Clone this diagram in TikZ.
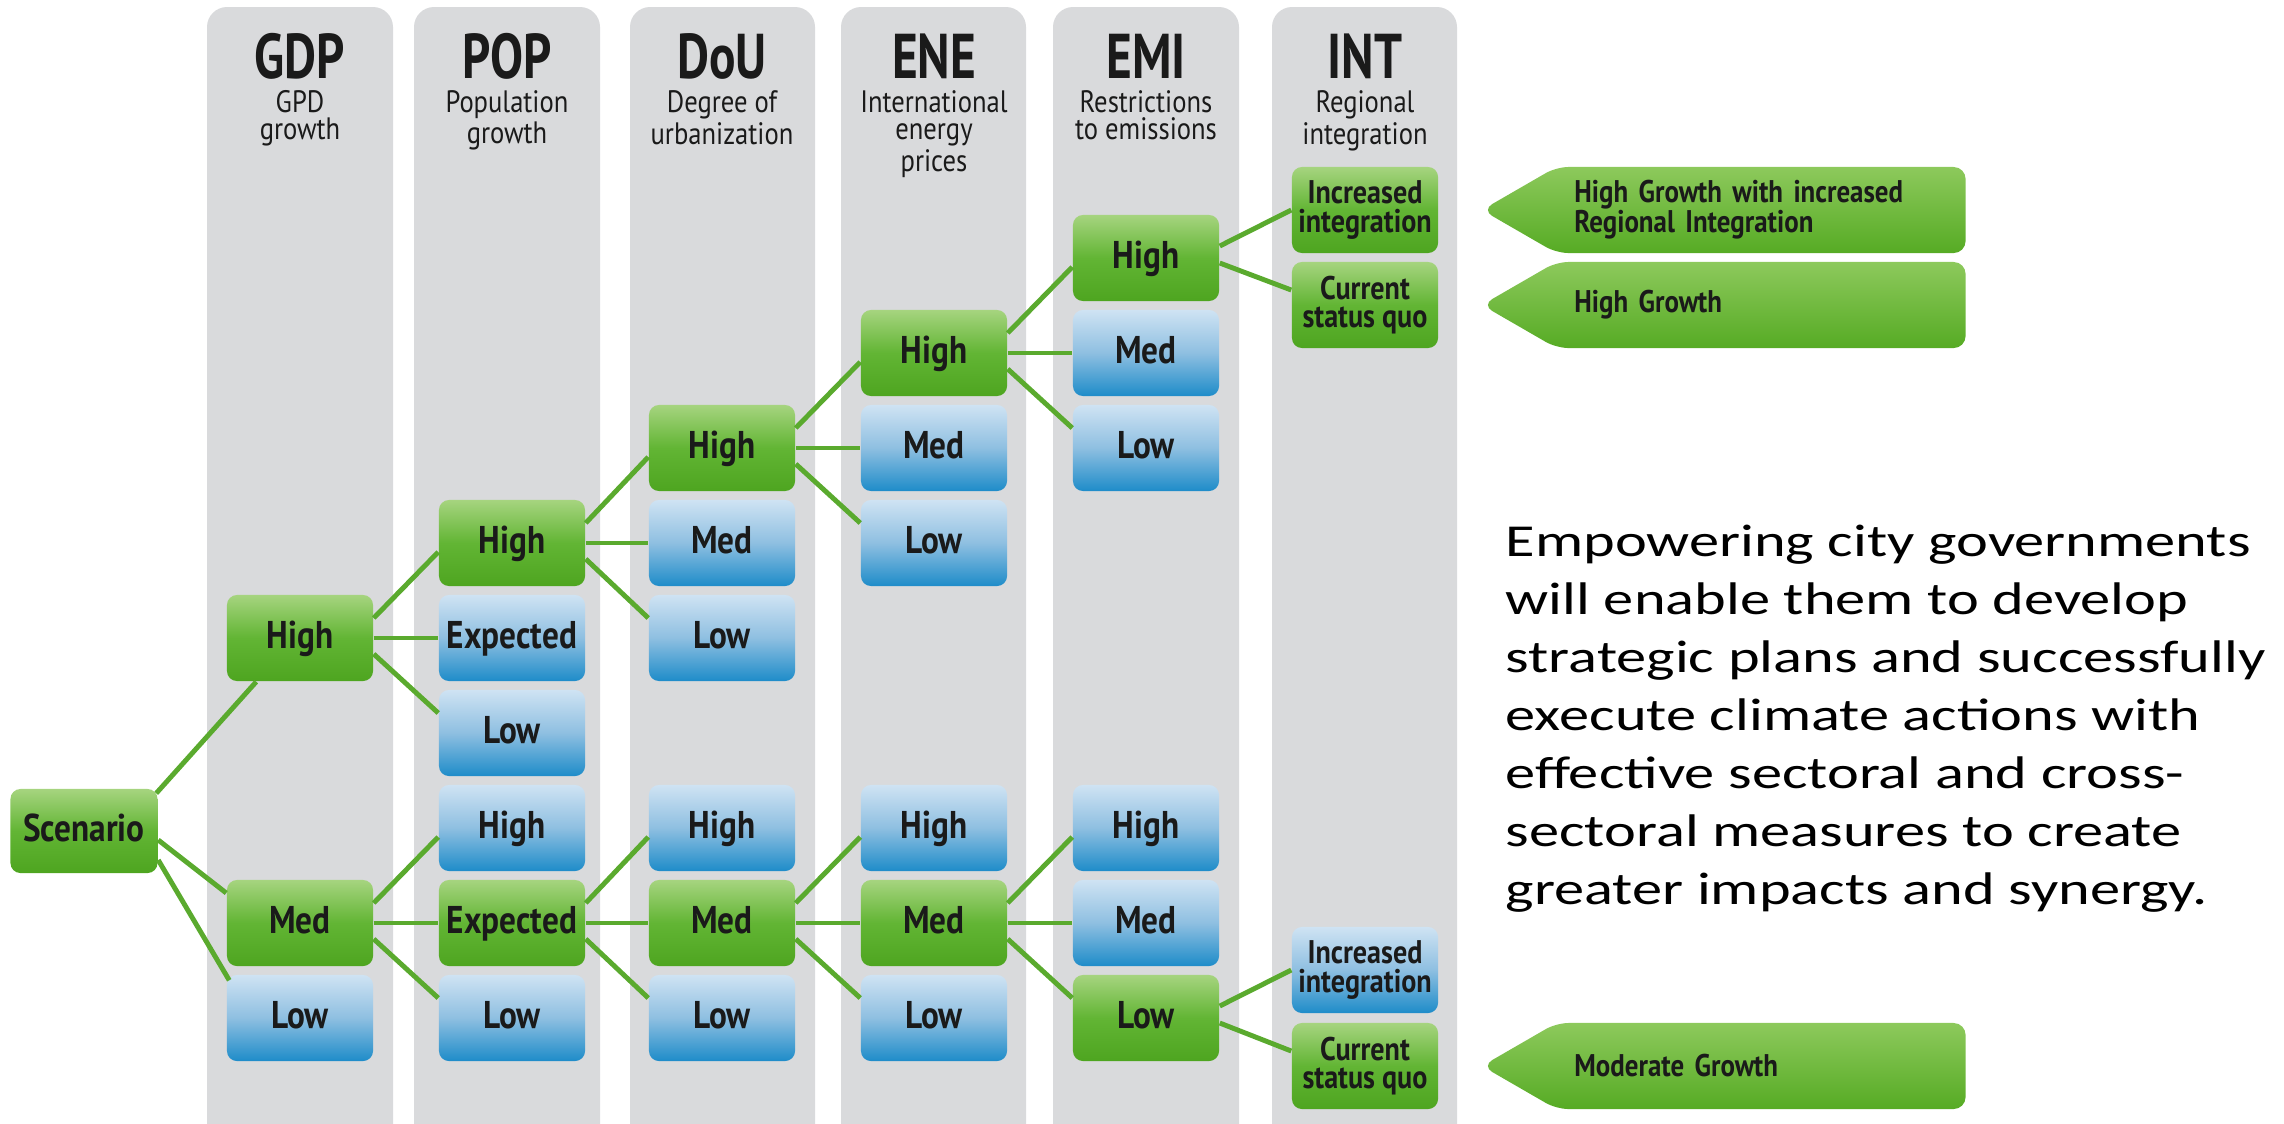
\documentclass[tikz,border=0pt]{standalone}
\usepackage{fontspec}
\setmainfont{Carlito}
\newfontfamily\notefont[FakeStretch=1.32]{Carlito}
\newfontfamily\condfont[FakeStretch=0.86]{PT Sans}
\newfontfamily\headfont[FakeStretch=0.78]{PT Sans}
\usetikzlibrary{positioning,calc,shapes.symbols}

\definecolor{panelgray}{HTML}{D9DADC}
\definecolor{linkgreen}{HTML}{5AAA2E}
\definecolor{greenTop}{HTML}{A6D47F}
\definecolor{greenMid}{HTML}{62B534}
\definecolor{greenBot}{HTML}{4EA520}
\definecolor{blueTop}{HTML}{CFE3F3}
\definecolor{blueMid}{HTML}{8EBFE1}
\definecolor{blueBot}{HTML}{1E8CC9}
\definecolor{labTop}{HTML}{8DC95C}
\definecolor{labBot}{HTML}{56AB24}
\definecolor{ink}{HTML}{1A1A1A}

\begin{document}
\begin{tikzpicture}[
  % one unit = one pixel of the original, y grows downwards
  x=0.01cm, y=-0.01cm,
  column/.style={fill=panelgray, rounded corners=0.2cm},
  colhead/.style={font=\headfont\bfseries\fontsize{18}{18}\selectfont,
    text=ink, anchor=base, inner sep=0pt, text depth=0pt},
  colsub/.style={font=\condfont\fontsize{8.8}{7.7}\selectfont,
    text=ink, align=center, anchor=north, inner sep=0pt},
  % shared box; colour set per node
  choice/.style={rectangle, rounded corners=0.1cm, minimum width=1.46cm,
    minimum height=0.86cm, inner sep=0pt, text=ink,
    font=\condfont\bfseries\fontsize{11}{11}\selectfont},
  word/.style={text height=0.27cm, text depth=0.07cm},
  twoline/.style={align=center,
    font=\condfont\bfseries\fontsize{9.3}{8}\selectfont},
  picked/.style={choice, top color=greenTop, bottom color=greenBot,
    middle color=greenMid},
  other/.style={choice, top color=blueTop, bottom color=blueBot,
    middle color=blueMid},
  outcome/.style={shape=signal, signal to=west, signal pointer angle=60,
    rounded corners=0.12cm, top color=labTop, bottom color=labBot,
    minimum height=0.86cm, inner ysep=0pt, inner xsep=0.18cm,
    text width=3.73cm, align=left, text=ink,
    font=\condfont\bfseries\fontsize{8.9}{8.5}\selectfont},
  link/.style={draw=linkgreen, line width=1.4pt},
]

\useasboundingbox (0,0) rectangle (2284,1123);

% ---------------------------------------------------------------
% Column panels and headings
% ---------------------------------------------------------------
\fill[column] (207,7) rectangle (393,1150);
\fill[column] (414,7) rectangle (600,1150);
\fill[column] (630,7) rectangle (815,1150);
\fill[column] (841,7) rectangle (1026,1150);
\fill[column] (1053,7) rectangle (1239,1150);
\fill[column] (1272,7) rectangle (1457,1150);

\node[colhead] (hGDP) at (300,78)  {GDP};
\node[colhead] (hPOP) at (507,78)  {POP};
\node[colhead] (hDOU) at (722,78)  {DoU};
\node[colhead] (hENE) at (934,78)  {ENE};
\node[colhead] (hEMI) at (1146,78) {EMI};
\node[colhead] (hINT) at (1365,78) {INT};

\node[colsub] (sGDP) at (300,90)  {GPD\\growth};
\node[colsub] (sPOP) at (507,90)  {Population\\growth};
\node[colsub] (sDOU) at (722,90)  {Degree of\\urbanization};
\node[colsub] (sENE) at (934,90)  {International\\energy\\prices};
\node[colsub] (sEMI) at (1146,90) {Restrictions\\to emissions};
\node[colsub] (sINT) at (1365,90) {Regional\\integration};

% ---------------------------------------------------------------
% Tree nodes: rows every 95 px, first row at 258
% ---------------------------------------------------------------
\node[picked, word, minimum width=1.47cm, minimum height=0.84cm]
  (scen) at (84,831) {Scenario};

% GDP
\node[picked, word] (gdpH) at (300,638)  {High};
\node[picked, word] (gdpM) at (300,923)  {Med};
\node[other, word]  (gdpL) at (300,1018) {Low};

% POP
\node[picked, word] (popH)  at (512,543)  {High};
\node[other, word]  (popE)  at (512,638)  {Expected};
\node[other, word]  (popL)  at (512,733)  {Low};
\node[other, word]  (popH2) at (512,828)  {High};
\node[picked, word] (popE2) at (512,923)  {Expected};
\node[other, word]  (popL2) at (512,1018) {Low};

% DoU
\node[picked, word] (douH)  at (722,448)  {High};
\node[other, word]  (douM)  at (722,543)  {Med};
\node[other, word]  (douL)  at (722,638)  {Low};
\node[other, word]  (douH2) at (722,828)  {High};
\node[picked, word] (douM2) at (722,923)  {Med};
\node[other, word]  (douL2) at (722,1018) {Low};

% ENE
\node[picked, word] (eneH)  at (934,353)  {High};
\node[other, word]  (eneM)  at (934,448)  {Med};
\node[other, word]  (eneL)  at (934,543)  {Low};
\node[other, word]  (eneH2) at (934,828)  {High};
\node[picked, word] (eneM2) at (934,923)  {Med};
\node[other, word]  (eneL2) at (934,1018) {Low};

% EMI
\node[picked, word] (emiH)  at (1146,258)  {High};
\node[other, word]  (emiM)  at (1146,353)  {Med};
\node[other, word]  (emiL)  at (1146,448)  {Low};
\node[other, word]  (emiH2) at (1146,828)  {High};
\node[other, word]  (emiM2) at (1146,923)  {Med};
\node[picked, word] (emiL2) at (1146,1018) {Low};

% INT (half a row off the grid)
\node[picked, twoline] (intI)  at (1365,210)  {Increased\\integration};
\node[picked, twoline] (intC)  at (1365,305)  {Current\\status quo};
\node[other, twoline]  (intI2) at (1365,970)  {Increased\\integration};
\node[picked, twoline] (intC2) at (1365,1066) {Current\\status quo};

% ---------------------------------------------------------------
% Outcomes and note
% ---------------------------------------------------------------
\node[outcome] (goalA) at (1761,210)
  {High Growth with increased\\Regional Integration};
\node[outcome] (goalB) at (1761,305)  {High Growth};
\node[outcome] (goalC) at (1761,1066) {Moderate Growth};

\node[anchor=north west, inner sep=0pt, align=left, text=black,
      font=\notefont\fontsize{13}{16.5}\selectfont] (note) at (1505,524) {
  Empowering city governments\\
  will enable them to develop\\
  strategic plans and successfully\\
  execute climate actions with\\
  effective sectoral and cross-\\
  sectoral measures to create\\
  greater impacts and synergy.
};

% ---------------------------------------------------------------
% Links
% ---------------------------------------------------------------
\draw[link] ($(scen.north east)+(-2,5)$) -- ($(gdpH.south west)+(30,0)$);
\draw[link] ($(scen.east)+(0,9)$) -- ($(gdpM.west)+(0,-30)$);
\draw[link] ($(scen.east)+(0,29)$) -- ($(gdpL.north west)+(3,6)$);

% one row up / level / one row down
\foreach \src/\dst in {gdpH/popH, gdpM/popH2, popH/douH, popE2/douH2,
                       douH/eneH, douM2/eneH2, eneH/emiH, eneM2/emiH2}
  \draw[link] ($(\src.east)+(0,-20)$) -- ($(\dst.west)+(0,9)$);
\foreach \src/\dst in {gdpH/popE, gdpM/popE2, popH/douM, popE2/douM2,
                       douH/eneM, douM2/eneM2, eneH/emiM, eneM2/emiM2}
  \draw[link] (\src.east) -- (\dst.west);
\foreach \src/\dst in {gdpH/popL, gdpM/popL2, popH/douL, popE2/douL2,
                       douH/eneL, douM2/eneL2, eneH/emiL, eneM2/emiL2}
  \draw[link] ($(\src.east)+(0,16)$) -- ($(\dst.west)+(0,-20)$);

% half a row up / down into INT
\foreach \src/\dst in {emiH/intI, emiL2/intI2}
  \draw[link] ($(\src.east)+(0,-12)$) -- (\dst.west);
\foreach \src/\dst in {emiH/intC, emiL2/intC2}
  \draw[link] ($(\src.east)+(0,5)$) -- ($(\dst.west)+(0,-15)$);

\end{tikzpicture}
\end{document}
